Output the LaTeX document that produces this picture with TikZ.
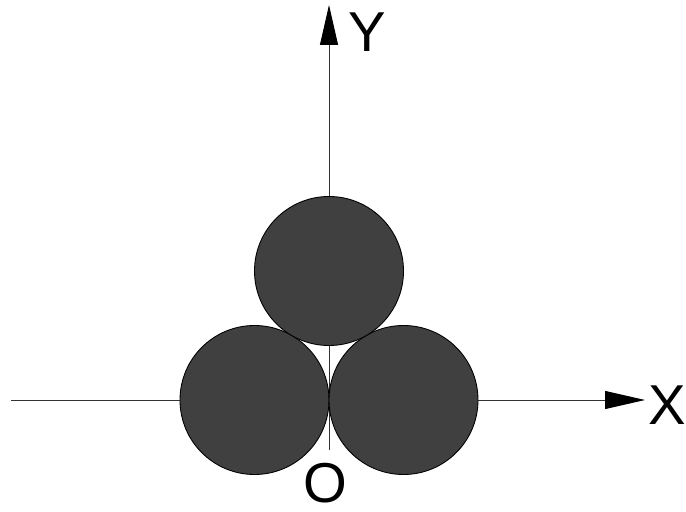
\documentclass[tikz,border=0pt]{standalone}
\usepackage{fontspec}
\setmainfont{Liberation Sans}
\usetikzlibrary{arrows.meta}
\tikzset{
  axis/.style={line width=0.55pt,draw=black!80,-{Triangle[length=0.8cm,width=0.36cm,black]}},
  strand/.style={draw=black,fill=black!75,line width=0.5pt},
  axislabel/.style={font=\fontsize{32}{38}\selectfont,inner sep=0pt}
}
\begin{document}
\begin{tikzpicture}
\useasboundingbox (0,0) rectangle (13.72,10.22);
\coordinate (origin) at (6.58,2.22);
\coordinate (xstart) at (0.22,2.22);
\coordinate (xend) at (12.9,2.22);
\coordinate (ystart) at (6.58,1.22);
\coordinate (yend) at (6.58,10.12);
\draw[axis] (xstart) -- (xend);
\draw[axis] (ystart) -- (yend);
% three strands, touching each other
\draw[strand] (5.09,2.22) circle (1.49);
\draw[strand] (8.07,2.22) circle (1.49);
\draw[strand] (6.58,4.80) circle (1.49);
\node[axislabel] (xlab) at (13.34,2.12) {X};
\node[axislabel] (ylab) at (7.34,9.58) {Y};
\node[axislabel] (olab) at (6.5,0.56) {O};
\end{tikzpicture}
\end{document}
